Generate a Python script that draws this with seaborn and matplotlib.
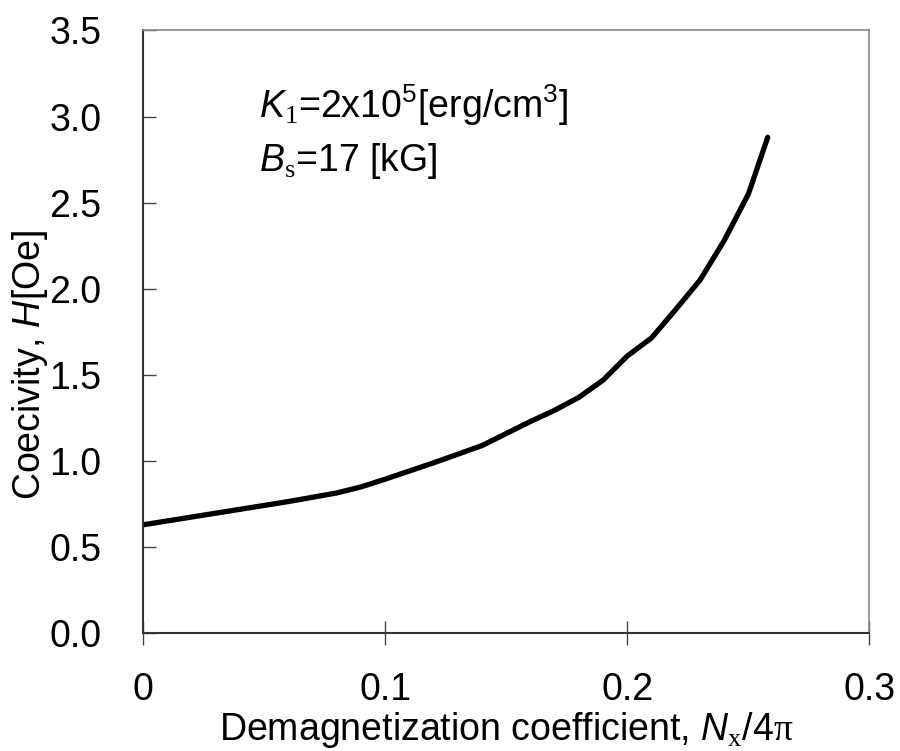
import matplotlib
matplotlib.use("Agg")
import matplotlib.pyplot as plt
import seaborn as sns
import pandas as pd

# Data
nx_over_4pi = [0.0, 0.02, 0.04, 0.06, 0.08, 0.09, 0.10, 0.12, 0.14, 0.15, 0.16,
               0.17, 0.18, 0.19, 0.20, 0.21, 0.22, 0.23, 0.24, 0.25, 0.258]
coercivity = [0.63, 0.675, 0.72, 0.765, 0.815, 0.85, 0.895, 0.99, 1.09, 1.16, 1.23,
              1.295, 1.37, 1.47, 1.61, 1.715, 1.88, 2.05, 2.28, 2.55, 2.88]
x_ticks = [0.0, 0.1, 0.2, 0.3]
x_tick_labels = ["0", "0.1", "0.2", "0.3"]
y_ticks = [0.0, 0.5, 1.0, 1.5, 2.0, 2.5, 3.0, 3.5]
y_tick_labels = ["0.0", "0.5", "1.0", "1.5", "2.0", "2.5", "3.0", "3.5"]

sns.set_style("white")
plt.rcParams['font.family'] = ['Liberation Sans', 'DejaVu Sans']
plt.rcParams['text.color'] = 'black'
plt.rcParams['axes.labelcolor'] = 'black'
plt.rcParams['xtick.color'] = 'black'
plt.rcParams['ytick.color'] = 'black'
plt.rcParams['mathtext.fontset'] = 'custom'
plt.rcParams['mathtext.rm'] = 'Liberation Serif'
plt.rcParams['mathtext.it'] = 'Liberation Sans:italic'
plt.rcParams['mathtext.sf'] = 'Liberation Sans'
plt.rcParams['mathtext.bf'] = 'Liberation Sans:bold'

df = pd.DataFrame({"x": nx_over_4pi, "y": coercivity})

fig = plt.figure(figsize=(9, 7.51), dpi=100)
ax = fig.add_axes([0.159, 0.1567, 0.807, 0.8027])
sns.lineplot(data=df, x="x", y="y", ax=ax, color="black", linewidth=3.8,
             solid_capstyle="round", solid_joinstyle="round")

ax.set_xlim(0, 0.3)
ax.set_ylim(0, 3.5)
ax.set_xticks(x_ticks)
ax.set_xticklabels(x_tick_labels)
ax.set_yticks(y_ticks)
ax.set_yticklabels(y_tick_labels)

fs = 27
ax.tick_params(axis="y", direction="in", length=9, width=1.0, color="#444444",
               labelcolor="black", labelsize=fs, pad=30, left=True)
ax.tick_params(axis="x", direction="inout", length=17, width=1.0, color="#444444",
               labelcolor="black", labelsize=fs, pad=19, bottom=True)

for side in ["left", "bottom"]:
    ax.spines[side].set_color("#333333")
    ax.spines[side].set_linewidth(1.5)
for side in ["top", "right"]:
    ax.spines[side].set_color("#888888")
    ax.spines[side].set_linewidth(1.2)
    ax.spines[side].set_visible(True)

ax.set_xlabel(r"Demagnetization coefficient, $\mathit{N}_{\mathrm{x}}\mathsf{/4}\mathrm{\pi}$",
              fontsize=fs, labelpad=2, color="black")
ax.set_ylabel(r"Coecivity, $\mathit{H}$[Oe]", fontsize=fs, color="black")
ax.yaxis.set_label_coords(-0.128, 0.445)

ax.text(0.16, 0.855, r"$\mathit{K}_{\mathrm{1}}$=2x10$^{\mathsf{5}}$[erg/cm$^{\mathsf{3}}$]",
        transform=ax.transAxes, fontsize=fs, ha="left", va="baseline", color="black")
ax.text(0.16, 0.767, r"$\mathit{B}_{\mathrm{s}}$=17 [kG]",
        transform=ax.transAxes, fontsize=fs, ha="left", va="baseline", color="black")

fig.savefig("out.png", dpi=100)
